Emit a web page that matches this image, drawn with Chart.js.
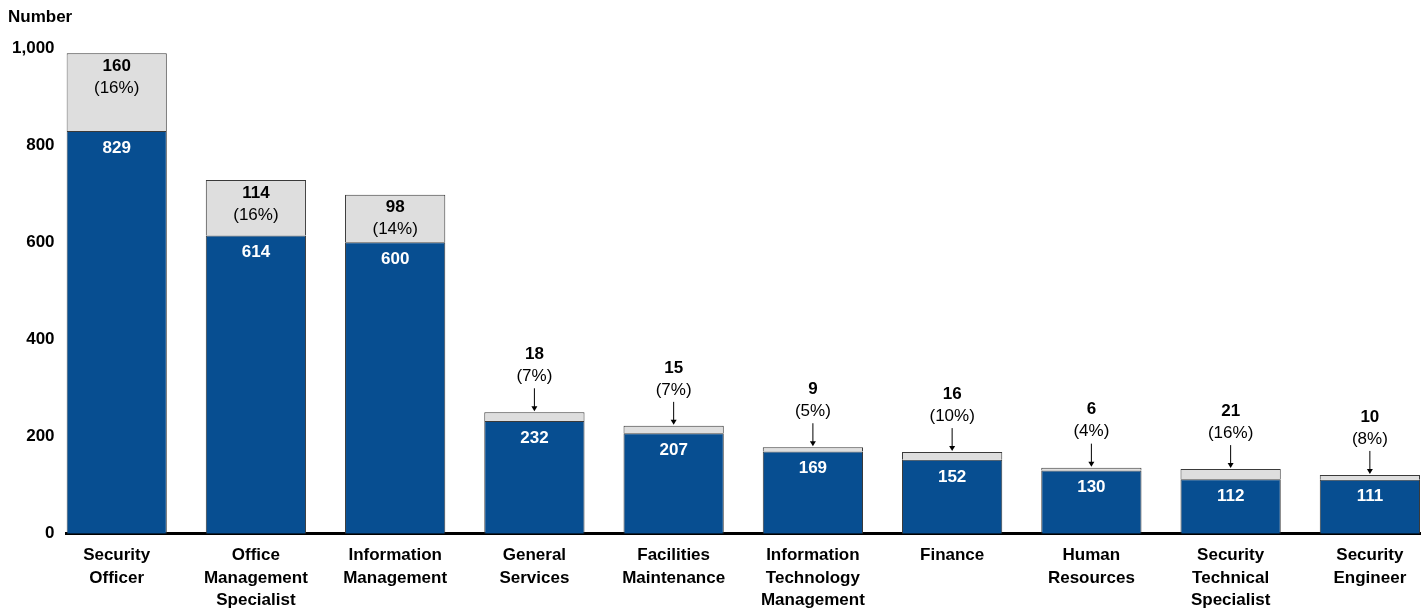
<!DOCTYPE html>
<html>
<head>
<meta charset="utf-8">
<script src="https://cdn.jsdelivr.net/npm/chart.js@4/dist/chart.umd.min.js"></script>
<style>
  html, body { margin: 0; padding: 0; background: #fff; }
  #wrap { width: 1424px; height: 610px; }
</style>
</head>
<body>
<div id="wrap"><canvas id="chart"></canvas></div>
<script>
const categories = [
  ['Security', 'Officer'],
  ['Office', 'Management', 'Specialist'],
  ['Information', 'Management'],
  ['General', 'Services'],
  ['Facilities', 'Maintenance'],
  ['Information', 'Technology', 'Management'],
  ['Finance'],
  ['Human', 'Resources'],
  ['Security', 'Technical', 'Specialist'],
  ['Security', 'Engineer'],
];
const baseValues = [829, 614, 600, 232, 207, 169, 152, 130, 112, 111];
const addedValues = [160, 114, 98, 18, 15, 9, 16, 6, 21, 10];
const addedPercents = ['16%', '16%', '14%', '7%', '7%', '5%', '10%', '4%', '16%', '8%'];
const yTicks = [0, 200, 400, 600, 800, 1000];

const FONT = "'Liberation Sans', Arial, sans-serif";
const BLUE = '#074e91';
const GRAY = '#dedede';

// labels on the bars + the "Number" axis title
const barLabels = {
  id: 'barLabels',
  afterDatasetsDraw(chart) {
    const ctx = chart.ctx;
    const base = chart.getDatasetMeta(0).data;
    const top = chart.getDatasetMeta(1).data;
    ctx.save();
    ctx.textAlign = 'center';
    ctx.textBaseline = 'middle';

    base.forEach((bar, i) => {
      ctx.fillStyle = '#fff';
      ctx.font = 'bold 17px ' + FONT;
      ctx.fillText(baseValues[i], bar.x, bar.y + 17);

      const seg = top[i];
      const segH = seg.base - seg.y;
      ctx.fillStyle = '#000';
      if (segH > 40) {
        ctx.font = 'bold 17px ' + FONT;
        ctx.fillText(addedValues[i], seg.x, seg.y + 13);
        ctx.font = '17px ' + FONT;
        ctx.fillText('(' + addedPercents[i] + ')', seg.x, seg.y + 35);
      } else {
        ctx.font = 'bold 17px ' + FONT;
        ctx.fillText(addedValues[i], seg.x, seg.y - 58);
        ctx.font = '17px ' + FONT;
        ctx.fillText('(' + addedPercents[i] + ')', seg.x, seg.y - 36);
        // arrow
        ctx.strokeStyle = '#000';
        ctx.lineWidth = 1;
        ctx.beginPath();
        ctx.moveTo(seg.x, seg.y - 24);
        ctx.lineTo(seg.x, seg.y - 3);
        ctx.stroke();
        ctx.beginPath();
        ctx.moveTo(seg.x - 3, seg.y - 6);
        ctx.lineTo(seg.x + 3, seg.y - 6);
        ctx.lineTo(seg.x, seg.y - 1);
        ctx.closePath();
        ctx.fill();
      }
    });

    ctx.textAlign = 'left';
    ctx.font = 'bold 17px ' + FONT;
    ctx.fillText('Number', 8, 17);
    ctx.restore();
  }
};

const ctx = document.getElementById('chart').getContext('2d');
new Chart(ctx, {
  type: 'bar',
  data: {
    datasets: [
      {
        label: 'Base',
        data: baseValues.map((v, i) => ({ x: i, y: v })),
        backgroundColor: BLUE,
        borderColor: '#3a3a3a',
        borderWidth: 1,
      },
      {
        label: 'Added',
        data: addedValues.map((v, i) => ({ x: i, y: v })),
        backgroundColor: GRAY,
        borderColor: '#3a3a3a',
        borderWidth: 1,
      },
    ],
  },
  options: {
    responsive: true,
    maintainAspectRatio: false,
    animation: false,
    barPercentage: 0.72,
    categoryPercentage: 1,
    layout: { padding: { top: 48, left: 0, right: 4, bottom: -12 } },
    plugins: {
      legend: { display: false },
      tooltip: { enabled: false },
    },
    scales: {
      x: {
        type: 'linear',
        stacked: true,
        min: -0.36,
        max: 9.36,
        offset: false,
        grid: { display: false, drawTicks: false },
        border: { display: true, color: '#000', width: 3 },
        afterBuildTicks: (axis) => {
          axis.ticks = categories.map((_, i) => ({ value: i }));
        },
        ticks: {
          autoSkip: false,
          maxRotation: 0,
          padding: 11,
          color: '#000',
          font: { family: FONT, size: 17, weight: 'bold', lineHeight: 1.3 },
          callback: (v) => categories[v],
        },
      },
      y: {
        stacked: true,
        min: 0,
        max: 1000,
        grid: { display: false, drawTicks: false },
        border: { display: false },
        afterBuildTicks: (axis) => {
          axis.ticks = yTicks.map((v) => ({ value: v }));
        },
        ticks: {
          padding: 12,
          color: '#000',
          font: { family: FONT, size: 17, weight: 'bold' },
          callback: (v) => v.toLocaleString('en-US'),
        },
      },
    },
  },
  plugins: [barLabels],
});
</script>
</body>
</html>
